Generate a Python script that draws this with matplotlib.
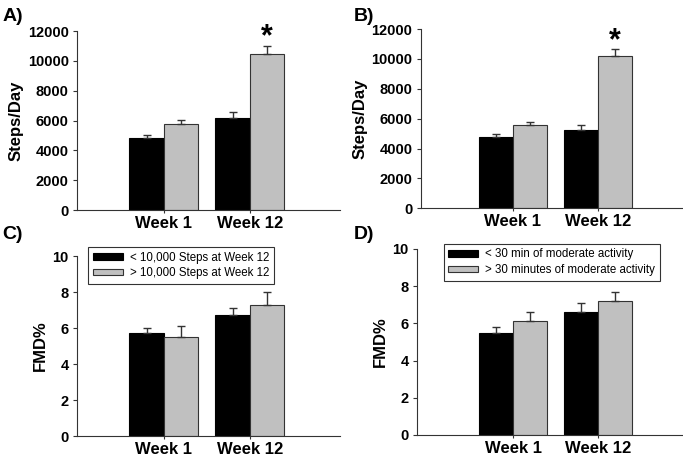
import numpy as np
import matplotlib
matplotlib.use('Agg')
import matplotlib.pyplot as plt

plt.rcParams['font.family'] = ['Liberation Sans', 'DejaVu Sans']

weeks = ['Week 1', 'Week 12']

# A) steps/day, split by steps at week 12
steps_a_low = [4820, 6150]
steps_a_low_err = [200, 400]
steps_a_high = [5800, 10450]
steps_a_high_err = [250, 550]

# B) steps/day, split by moderate activity
steps_b_low = [4800, 5250]
steps_b_low_err = [200, 350]
steps_b_high = [5600, 10200]
steps_b_high_err = [200, 450]

# C) FMD%, split by steps at week 12
fmd_c_low = [5.7, 6.7]
fmd_c_low_err = [0.3, 0.4]
fmd_c_high = [5.5, 7.3]
fmd_c_high_err = [0.6, 0.7]

# D) FMD%, split by moderate activity
fmd_d_low = [5.5, 6.6]
fmd_d_low_err = [0.3, 0.5]
fmd_d_high = [6.1, 7.2]
fmd_d_high_err = [0.5, 0.5]

legend_c = ['< 10,000 Steps at Week 12', '> 10,000 Steps at Week 12']
legend_d = ['< 30 min of moderate activity', '> 30 minutes of moderate activity']

fig = plt.figure(figsize=(6.83, 4.70), dpi=100)

def panel(rect, low, low_err, high, high_err, ylim, yticks, ylabel, xlim, star=False, leg=None, leg_anchor=None):
    ax = fig.add_axes(rect)
    x = np.arange(len(weeks))
    w = 0.4
    ax.bar(x - w / 2, low, w, color='black', edgecolor='black', linewidth=0.8, label=leg[0] if leg else None)
    ax.bar(x + w / 2, high, w, color='#c0c0c0', edgecolor='#333333', linewidth=0.8, label=leg[1] if leg else None)
    ax.errorbar(x - w / 2, low, yerr=[np.zeros(len(low)), low_err], fmt='none',
                ecolor='#333333', elinewidth=1, capsize=3, capthick=1, zorder=1)
    ax.errorbar(x + w / 2, high, yerr=[np.zeros(len(high)), high_err], fmt='none',
                ecolor='#333333', elinewidth=1, capsize=3, capthick=1, zorder=1)
    if star:
        ax.text(x[1] + w / 2, high[1] + high_err[1] - 450, '*', ha='center', va='bottom',
                fontsize=22, fontweight='bold', clip_on=False)
    ax.set_xlim(*xlim)
    ax.set_ylim(*ylim)
    ax.set_yticks(yticks)
    ax.set_xticks(x)
    ax.set_xticklabels(weeks, fontsize=12, fontweight='bold')
    for t in ax.get_yticklabels():
        t.set_fontsize(10.5)
        t.set_fontweight('bold')
    ax.set_ylabel(ylabel, fontsize=12, fontweight='bold', labelpad=3)
    ax.spines['top'].set_visible(False)
    ax.spines['right'].set_visible(False)
    ax.spines['left'].set_color('#333333')
    ax.spines['bottom'].set_color('#333333')
    ax.tick_params(axis='y', length=3, color='#333333', pad=3)
    ax.tick_params(axis='x', length=2.5, color='#333333', pad=2)
    if leg:
        lg = ax.legend(loc='upper left', bbox_to_anchor=leg_anchor, borderaxespad=0, fontsize=8.3,
                       frameon=True, fancybox=False, edgecolor='black', handlelength=2.6,
                       handleheight=0.5, borderpad=0.4, labelspacing=0.3, handletextpad=0.6)
        lg.get_frame().set_linewidth(0.8)
    return ax

panel([0.1127, 0.553, 0.385, 0.381], steps_a_low, steps_a_low_err, steps_a_high, steps_a_high_err,
      (0, 12000), range(0, 12001, 2000), 'Steps/Day', (-1.01, 2.05), star=True)
panel([0.616, 0.557, 0.384, 0.381], steps_b_low, steps_b_low_err, steps_b_high, steps_b_high_err,
      (0, 12000), range(0, 12001, 2000), 'Steps/Day', (-1.08, 2.0), star=True)
panel([0.1127, 0.0723, 0.385, 0.383], fmd_c_low, fmd_c_low_err, fmd_c_high, fmd_c_high_err,
      (0, 10), range(0, 11, 2), 'FMD%', (-1.01, 2.05), leg=legend_c, leg_anchor=(0.042, 1.05))
panel([0.6105, 0.0745, 0.3895, 0.396], fmd_d_low, fmd_d_low_err, fmd_d_high, fmd_d_high_err,
      (0, 10), range(0, 11, 2), 'FMD%', (-1.13, 2.0), leg=legend_d, leg_anchor=(0.10, 1.027))

for lbl, xf, yf in [('A)', 0.004, 0.982), ('B)', 0.518, 0.982), ('C)', 0.004, 0.52), ('D)', 0.518, 0.52)]:
    fig.text(xf, yf, lbl, fontsize=14, fontweight='bold', ha='left', va='top')

fig.savefig('out.png', dpi=100)
